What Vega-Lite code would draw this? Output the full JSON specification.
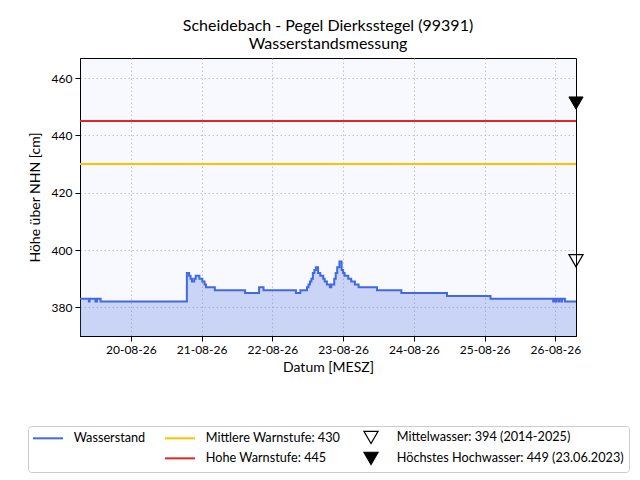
{
  "$schema": "https://vega.github.io/schema/vega-lite/v6.json",
  "width": 496,
  "height": 278,
  "autosize": {"type": "none"},
  "padding": {"left": 80, "top": 58, "right": 64, "bottom": 144},
  "background": "white",
  "title": {
    "text": ["Scheidebach - Pegel Dierksstegel (99391)", "Wasserstandsmessung"],
    "fontSize": 16, "fontWeight": "normal", "font": "Lato", "color": "black",
    "anchor": "middle", "offset": 6
  },
  "datasets": {
    "ws": [
      {"t": "2026-08-19T06:45:00", "v": 383},
      {"t": "2026-08-19T09:45:00", "v": 382},
      {"t": "2026-08-19T10:00:00", "v": 383},
      {"t": "2026-08-19T12:00:00", "v": 382},
      {"t": "2026-08-19T12:30:00", "v": 383},
      {"t": "2026-08-19T13:45:00", "v": 382},
      {"t": "2026-08-20T19:00:00", "v": 392},
      {"t": "2026-08-20T19:45:00", "v": 391},
      {"t": "2026-08-20T20:15:00", "v": 390},
      {"t": "2026-08-20T20:45:00", "v": 389},
      {"t": "2026-08-20T21:30:00", "v": 390},
      {"t": "2026-08-20T22:00:00", "v": 391},
      {"t": "2026-08-20T23:15:00", "v": 390},
      {"t": "2026-08-21T00:15:00", "v": 389},
      {"t": "2026-08-21T01:00:00", "v": 388},
      {"t": "2026-08-21T01:30:00", "v": 387},
      {"t": "2026-08-21T04:30:00", "v": 386},
      {"t": "2026-08-21T14:45:00", "v": 385},
      {"t": "2026-08-21T19:30:00", "v": 387},
      {"t": "2026-08-21T21:00:00", "v": 386},
      {"t": "2026-08-22T08:00:00", "v": 385},
      {"t": "2026-08-22T09:30:00", "v": 386},
      {"t": "2026-08-22T11:45:00", "v": 387},
      {"t": "2026-08-22T12:15:00", "v": 388},
      {"t": "2026-08-22T12:45:00", "v": 389},
      {"t": "2026-08-22T13:15:00", "v": 390},
      {"t": "2026-08-22T13:45:00", "v": 392},
      {"t": "2026-08-22T14:15:00", "v": 393},
      {"t": "2026-08-22T14:45:00", "v": 394},
      {"t": "2026-08-22T15:30:00", "v": 392},
      {"t": "2026-08-22T16:15:00", "v": 391},
      {"t": "2026-08-22T17:15:00", "v": 390},
      {"t": "2026-08-22T17:45:00", "v": 389},
      {"t": "2026-08-22T18:30:00", "v": 388},
      {"t": "2026-08-22T19:30:00", "v": 387},
      {"t": "2026-08-22T20:00:00", "v": 388},
      {"t": "2026-08-22T21:00:00", "v": 390},
      {"t": "2026-08-22T21:30:00", "v": 392},
      {"t": "2026-08-22T22:00:00", "v": 394},
      {"t": "2026-08-22T22:45:00", "v": 396},
      {"t": "2026-08-22T23:30:00", "v": 393},
      {"t": "2026-08-23T00:00:00", "v": 392},
      {"t": "2026-08-23T00:30:00", "v": 391},
      {"t": "2026-08-23T01:45:00", "v": 390},
      {"t": "2026-08-23T02:45:00", "v": 389},
      {"t": "2026-08-23T04:00:00", "v": 388},
      {"t": "2026-08-23T05:15:00", "v": 387},
      {"t": "2026-08-23T11:30:00", "v": 386},
      {"t": "2026-08-23T19:45:00", "v": 385},
      {"t": "2026-08-24T11:15:00", "v": 384},
      {"t": "2026-08-25T02:00:00", "v": 383},
      {"t": "2026-08-25T23:15:00", "v": 382},
      {"t": "2026-08-25T23:30:00", "v": 383},
      {"t": "2026-08-26T00:00:00", "v": 382},
      {"t": "2026-08-26T00:15:00", "v": 383},
      {"t": "2026-08-26T01:00:00", "v": 382},
      {"t": "2026-08-26T01:15:00", "v": 383},
      {"t": "2026-08-26T02:00:00", "v": 382},
      {"t": "2026-08-26T02:15:00", "v": 383},
      {"t": "2026-08-26T03:15:00", "v": 382},
      {"t": "2026-08-26T07:00:00", "v": 382}
    ],
    "stufen": [
      {"series": "Mittlere Warnstufe: 430", "v": 430},
      {"series": "Hohe Warnstufe: 445", "v": 445}
    ],
    "mw": [{"t": "2026-08-26T07:00:00", "v": 394}],
    "hhw": [{"t": "2026-08-26T07:00:00", "v": 449}]
  },
  "layer": [
    {
      "data": {"name": "ws"},
      "mark": {"type": "area", "interpolate": "step-after", "color": "#4169E1", "opacity": 0.25, "clip": true},
      "encoding": {
        "x": {
          "field": "t", "type": "temporal",
          "scale": {"domain": [
            {"year": 2026, "month": 8, "date": 19, "hours": 6, "minutes": 45},
            {"year": 2026, "month": 8, "date": 26, "hours": 7, "minutes": 0}
          ], "nice": false},
          "axis": {
            "title": "Datum [MESZ]",
            "format": "%d-%m-%y",
            "values": [
              {"year": 2026, "month": 8, "date": 20},
              {"year": 2026, "month": 8, "date": 21},
              {"year": 2026, "month": 8, "date": 22},
              {"year": 2026, "month": 8, "date": 23},
              {"year": 2026, "month": 8, "date": 24},
              {"year": 2026, "month": 8, "date": 25},
              {"year": 2026, "month": 8, "date": 26}
            ],
            "labelAngle": 0, "labelFlush": false,
            "tickSize": 5,
            "labelPadding": 3, "titlePadding": 5
          }
        },
        "y": {
          "field": "v", "type": "quantitative",
          "scale": {"domain": [370, 467], "nice": false, "zero": false},
          "axis": {
            "title": "Höhe über NHN [cm]",
            "values": [380, 400, 420, 440, 460],
            "tickSize": 5,
            "labelPadding": 3, "titlePadding": 9
          }
        }
      }
    },
    {
      "data": {"name": "ws"},
      "mark": {"type": "line", "interpolate": "step-after", "color": "#4169E1", "strokeWidth": 2, "clip": true},
      "encoding": {
        "x": {"field": "t", "type": "temporal"},
        "y": {"field": "v", "type": "quantitative"}
      }
    },
    {
      "data": {"name": "stufen"},
      "mark": {"type": "rule", "strokeWidth": 2},
      "encoding": {
        "y": {"field": "v", "type": "quantitative"},
        "color": {
          "field": "series", "type": "nominal",
          "scale": {
            "domain": ["Wasserstand", "Mittlere Warnstufe: 430", "Mittelwasser: 394 (2014-2025)", "leer", "Hohe Warnstufe: 445", "Höchstes Hochwasser: 449 (23.06.2023)"],
            "range": ["#4169E1", "#FFC000", "black", "transparent", "#E0282B", "black"]
          },
          "legend": {
            "title": null,
            "orient": "none", "legendX": -52, "legendY": 368,
            "direction": "horizontal", "columns": 3,
            "labelExpr": "datum.label == 'leer' ? '' : datum.label",
            "encode": {
              "symbols": {
                "update": {
                  "shape": {"signal": "(datum.value == 'Mittelwasser: 394 (2014-2025)' || datum.value == 'Höchstes Hochwasser: 449 (23.06.2023)') ? 'triangle-down' : 'stroke'"},
                  "size": {"signal": "(datum.value == 'Mittelwasser: 394 (2014-2025)' || datum.value == 'Höchstes Hochwasser: 449 (23.06.2023)') ? 200 : 900"},
                  "fill": {"signal": "datum.value == 'Höchstes Hochwasser: 449 (23.06.2023)' ? 'black' : 'transparent'"},
                  "strokeWidth": {"signal": "(datum.value == 'Mittelwasser: 394 (2014-2025)' || datum.value == 'Höchstes Hochwasser: 449 (23.06.2023)') ? 1.2 : 2"},
                  "x": {"value": 15}
                }
              }
            }
          }
        }
      }
    },
    {
      "data": {"name": "mw"},
      "mark": {"type": "point", "shape": "triangle-down", "filled": false, "stroke": "black", "strokeWidth": 1.2, "size": 200, "yOffset": -6.5, "opacity": 1, "clip": false},
      "encoding": {
        "x": {"field": "t", "type": "temporal"},
        "y": {"field": "v", "type": "quantitative"}
      }
    },
    {
      "data": {"name": "hhw"},
      "mark": {"type": "point", "shape": "triangle-down", "filled": true, "fill": "black", "stroke": "black", "strokeWidth": 1, "size": 200, "yOffset": -6.5, "opacity": 1, "clip": false},
      "encoding": {
        "x": {"field": "t", "type": "temporal"},
        "y": {"field": "v", "type": "quantitative"}
      }
    }
  ],
  "config": {
    "font": "Lato",
    "view": {"stroke": "black", "strokeWidth": 1, "fill": "#F8F8FF"},
    "axis": {
      "labelFont": "Lato", "titleFont": "Lato",
      "labelFontSize": 12, "titleFontSize": 14, "titleFontWeight": "normal",
      "labelColor": "black", "titleColor": "black",
      "domainColor": "black", "tickColor": "black",
      "gridColor": "#b8b8b8", "gridDash": [1.5, 2.5], "gridWidth": 0.8
    },
    "legend": {
      "symbolSize": 196, "symbolStrokeWidth": 2,
      "rowPadding": 3, "columnPadding": 15, "labelOffset": 28,
      "padding": 5, "strokeColor": "#cccccc", "fillColor": "white", "cornerRadius": 3,
      "labelFont": "Lato", "labelFontSize": 12.7, "labelColor": "black", "labelLimit": 400
    }
  }
}
